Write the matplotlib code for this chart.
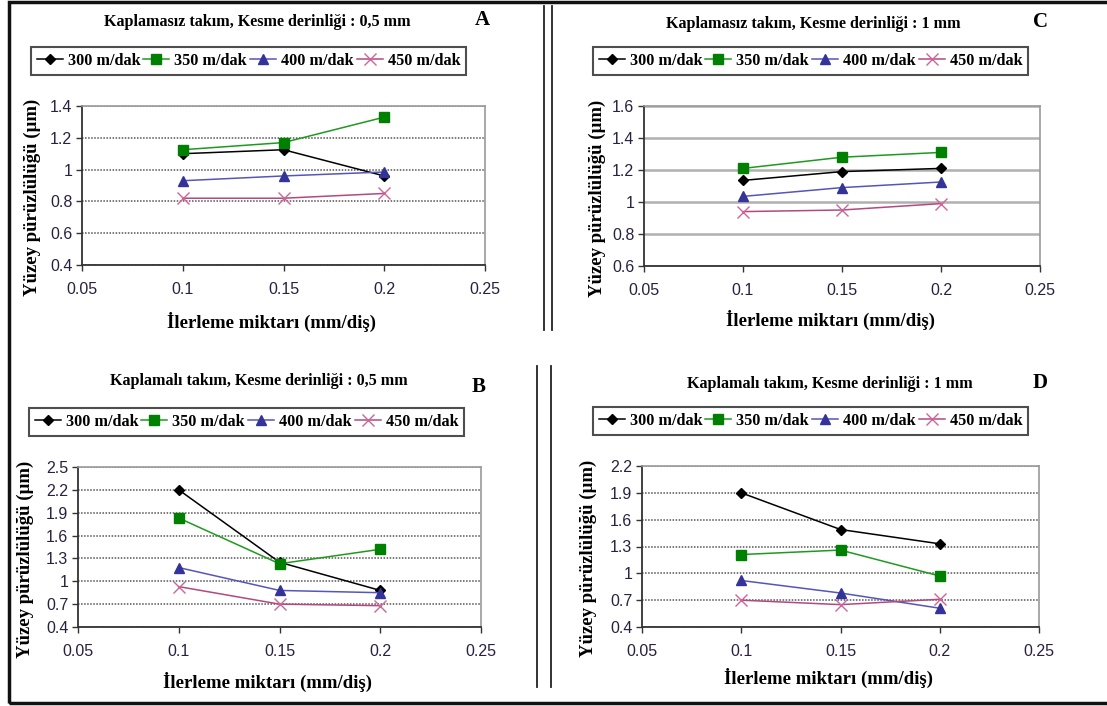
import matplotlib
matplotlib.use("Agg")
import matplotlib.pyplot as plt
from matplotlib.lines import Line2D
from matplotlib.patches import Rectangle

# ---------------- data ----------------
feed = [0.1, 0.15, 0.2]
speed_labels = ["300 m/dak", "350 m/dak", "400 m/dak", "450 m/dak"]

a_300 = [1.10, 1.125, 0.96]
a_350 = [1.125, 1.17, 1.33]
a_400 = [0.93, 0.96, 0.985]
a_450 = [0.82, 0.82, 0.85]

c_300 = [1.135, 1.19, 1.21]
c_350 = [1.21, 1.28, 1.31]
c_400 = [1.035, 1.09, 1.125]
c_450 = [0.94, 0.95, 0.99]

b_300 = [2.20, 1.25, 0.88]
b_350 = [1.83, 1.23, 1.42]
b_400 = [1.18, 0.88, 0.85]
b_450 = [0.93, 0.70, 0.68]

d_300 = [1.90, 1.49, 1.33]
d_350 = [1.21, 1.26, 0.97]
d_400 = [0.92, 0.78, 0.61]
d_450 = [0.70, 0.65, 0.71]

titles = ["Kaplamasız takım, Kesme derinliği : 0,5 mm",
          "Kaplamasız takım, Kesme derinliği : 1 mm",
          "Kaplamalı takım, Kesme derinliği : 0,5 mm",
          "Kaplamalı takım, Kesme derinliği : 1 mm"]
letters = ["A", "C", "B", "D"]
xlabel = "İlerleme miktarı (mm/diş)"
ylabel = "Yüzey pürüzlülüğü (µm)"
xticks = [0.05, 0.1, 0.15, 0.2, 0.25]
xticklabels = ["0.05", "0.1", "0.15", "0.2", "0.25"]
yticks_a = [0.4, 0.6, 0.8, 1.0, 1.2, 1.4]
yticks_c = [0.6, 0.8, 1.0, 1.2, 1.4, 1.6]
yticks_b = [0.4, 0.7, 1.0, 1.3, 1.6, 1.9, 2.2, 2.5]
yticks_d = [0.4, 0.7, 1.0, 1.3, 1.6, 1.9, 2.2]
ytl_a = ["0.4", "0.6", "0.8", "1", "1.2", "1.4"]
ytl_c = ["0.6", "0.8", "1", "1.2", "1.4", "1.6"]
ytl_b = ["0.4", "0.7", "1", "1.3", "1.6", "1.9", "2.2", "2.5"]
ytl_d = ["0.4", "0.7", "1", "1.3", "1.6", "1.9", "2.2"]

# ---------------- styles ----------------
SERIF = "Liberation Serif"
SANS = "Liberation Sans"
styles = [
    dict(color="#000000", marker="D", markersize=5, mfc="#000000", mec="#000000"),
    dict(color="#1f9a1f", marker="s", markersize=6.5, mfc="#008000", mec="#008000"),
    dict(color="#5555bb", marker="^", markersize=7, mfc="#333399", mec="#333399"),
    dict(color="#b04a80", marker="x", markersize=9, mfc="#cc6699", mec="#cc6699", mew=1.0),
]

W, H = 1107, 706
fig = plt.figure(figsize=(W / 100, H / 100), dpi=100)

def fx(px):
    return px / W

def fy(py):
    return 1 - py / H

def add_panel(rect_px, series, yticks, ytl, title, letter, title_px, letter_px,
              legend_px, ylabel_x, xlabel_y, grid_style):
    l, t, r, b = rect_px
    ax = fig.add_axes([fx(l), fy(b), fx(r - l), (b - t) / H])
    for vals, lab, st in zip(series, speed_labels, styles):
        ax.plot(feed, vals, label=lab, linewidth=1.1, **st)
    ax.set_xlim(xticks[0], xticks[-1])
    ax.set_ylim(yticks[0], yticks[-1])
    ax.set_xticks(xticks)
    ax.set_xticklabels(xticklabels, fontfamily=SANS, fontsize=11.5, color="#2a2040")
    ax.set_yticks(yticks)
    ax.set_yticklabels(ytl, fontfamily=SANS, fontsize=11.5, color="#2a2040")
    ax.tick_params(axis="both", direction="out", length=4, width=1, color="#333333")
    ax.tick_params(axis="x", pad=8)
    ax.tick_params(axis="y", pad=3)
    for s in ["left", "bottom"]:
        ax.spines[s].set_color("#333333")
        ax.spines[s].set_linewidth(1.3)
    for s in ["top", "right"]:
        ax.spines[s].set_color("#999999")
        ax.spines[s].set_linewidth(1.2)
    if grid_style == "dotted":
        ax.yaxis.grid(True, linestyle=(0, (1, 1)), color="#555555", linewidth=1.1)
    else:
        ax.yaxis.grid(True, linestyle="-", color="#b0b0b0", linewidth=1.8)
    ax.set_axisbelow(True)
    fig.text(fx(title_px[0]), fy(title_px[1]), title, ha="center", va="center",
             fontfamily=SERIF, fontweight="bold", fontsize=11.6)
    fig.text(fx(letter_px[0]), fy(letter_px[1]), letter, ha="center", va="center",
             fontfamily=SERIF, fontweight="bold", fontsize=15)
    fig.text(fx(ylabel_x), fy((t + b) / 2 + 12), ylabel, rotation=90, ha="center",
             va="center", fontfamily=SERIF, fontweight="bold", fontsize=13.5)
    fig.text(fx((l + r) / 2 - 12), fy(xlabel_y), xlabel, ha="center", va="center",
             fontfamily=SERIF, fontweight="bold", fontsize=13.5)
    lx0, ly0, lx1, ly1 = legend_px
    handles = [Line2D([], [], linewidth=1.1, **st) for st in styles]
    leg = fig.legend(handles, speed_labels, ncol=4,
                     bbox_to_anchor=(fx(lx0), fy((ly0 + ly1) / 2)),
                     bbox_transform=fig.transFigure, loc="center left",
                     frameon=True, fancybox=False, borderaxespad=0.0,
                     handlelength=1.6, handletextpad=0.3, columnspacing=0.2,
                     borderpad=0.35,
                     prop=dict(family=SERIF, weight="bold", size=11.7))
    leg.get_frame().set_edgecolor("#222222")
    leg.get_frame().set_linewidth(1.5)
    return ax

add_panel((82, 106, 485, 265), [a_300, a_350, a_400, a_450], yticks_a, ytl_a,
          titles[0], letters[0], (257, 22), (482, 20), (31, 47, 467, 75), 32, 322, "dotted")
add_panel((644, 106, 1040, 266), [c_300, c_350, c_400, c_450], yticks_c, ytl_c,
          titles[1], letters[1], (813, 24), (1040, 22), (593, 47, 1023, 75), 597, 320, "solid")
add_panel((78, 467, 481, 627), [b_300, b_350, b_400, b_450], yticks_b, ytl_b,
          titles[2], letters[2], (259, 381), (479, 387), (29, 407, 463, 437), 25, 682, "dotted")
add_panel((642, 466, 1039, 627), [d_300, d_350, d_400, d_450], yticks_d, ytl_d,
          titles[3], letters[3], (830, 384), (1040, 383), (593, 407, 1022, 435), 588, 678, "dotted")

# separators
for x in (544, 552):
    fig.add_artist(Line2D([fx(x), fx(x)], [fy(6), fy(330)], color="#222222", linewidth=1.3))
for x in (537, 551):
    fig.add_artist(Line2D([fx(x), fx(x)], [fy(366), fy(687)], color="#222222", linewidth=1.3))

# outer frame
fig.add_artist(Rectangle((fx(9), fy(703)), fx(1120 - 9), (703 - 2) / H, fill=False,
                         edgecolor="#111111", linewidth=2.5, transform=fig.transFigure))

fig.savefig("out.png", dpi=100)
